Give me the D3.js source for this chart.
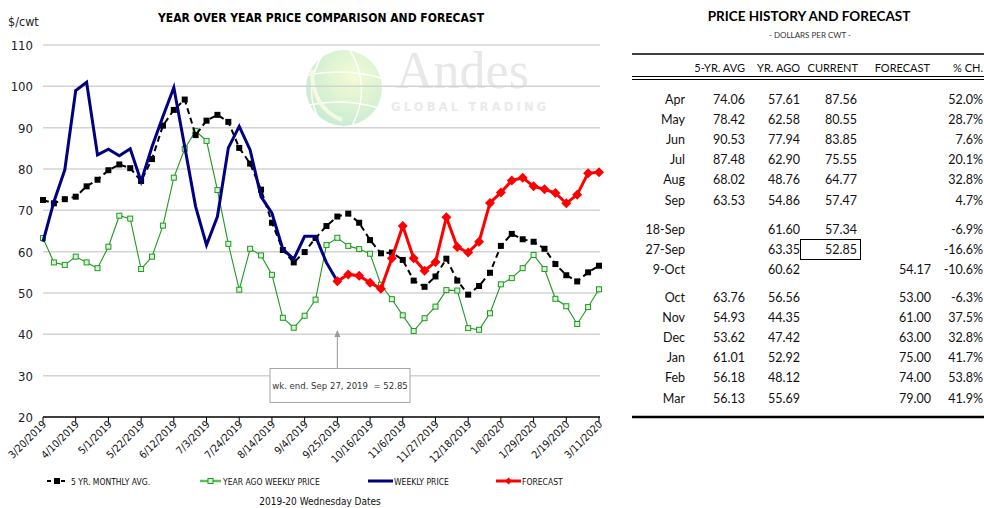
<!DOCTYPE html>
<html><head><meta charset="utf-8">
<script src="https://cdn.jsdelivr.net/npm/d3@7"></script>
<style>
html,body{margin:0;padding:0;background:#fff;}
svg{display:block;}
.ax{font-family:"DejaVu Sans Condensed","DejaVu Sans",sans-serif;font-stretch:condensed;}
.tb{font-family:Lato,"Open Sans",sans-serif;}
</style></head>
<body>
<svg id="c" width="984" height="508"></svg>
<script>
// ---------- DATA ----------
const tickLabels = ["3/20/2019","4/10/2019","5/1/2019","5/22/2019","6/12/2019","7/3/2019","7/24/2019","8/14/2019","9/4/2019","9/25/2019","10/16/2019","11/6/2019","11/27/2019","12/18/2019","1/8/2020","1/29/2020","2/19/2020","3/11/2020"];
const yTicks = [20,30,40,50,60,70,80,90,100,110];
// weekly series (week index 0 = 3/20/2019 ... 51 = 3/11/2020)
const avg5 = [72.5,71.7,72.7,73.3,75.8,77.4,79.7,81.1,80.2,77.1,82.4,90.5,94.3,96.8,88.2,91.7,93.1,91.4,85.1,81.3,75.0,67.0,60.4,57.4,59.9,63.3,66.2,68.5,69.2,67.0,62.8,59.6,59.8,58.0,53.0,51.5,54.0,58.3,53.0,49.6,51.7,54.9,61.4,64.3,63.0,62.4,60.7,57.0,54.3,52.8,55.0,56.6];
const yearAgo = [63.3,57.4,56.8,58.8,57.4,56.0,61.2,68.7,68.0,55.8,58.8,66.3,77.9,84.9,89.2,86.8,74.9,61.9,50.8,60.7,59.1,54.4,44.0,41.6,44.5,48.4,61.6,63.35,61.4,60.62,59.5,52.0,48.5,44.6,40.8,43.9,46.7,50.7,50.6,41.5,41.1,45.1,52.1,53.6,56.0,59.2,55.8,48.6,46.8,42.5,46.6,50.9];
const weekly = [62.4,72.1,79.8,99.0,101.0,83.4,84.8,83.2,84.9,77.0,85.4,92.7,99.7,85.4,70.9,61.6,68.5,85.1,90.3,84.6,73.3,69.3,60.6,58.2,63.7,63.7,57.34,52.85];
const forecastStart = 27;
const forecast = [52.85,54.5,54.17,52.5,51.0,58.4,66.2,58.4,55.4,57.5,68.3,61.1,59.8,62.4,71.8,74.3,77.2,77.9,75.8,75.1,74.2,71.7,73.8,79.0,79.2];
const legendLabels = ["5 YR. MONTHLY AVG.","YEAR AGO WEEKLY PRICE","WEEKLY PRICE","FORECAST"];

// table
const tabHeaders = ["5-YR. AVG","YR. AGO","CURRENT","FORECAST","% CH."];
const tabLabels1 = ["Apr","May","Jun","Jul","Aug","Sep"];
const tabAvg1 = ["74.06","78.42","90.53","87.48","68.02","63.53"];
const tabAgo1 = ["57.61","62.58","77.94","62.90","48.76","54.86"];
const tabCur1 = ["87.56","80.55","83.85","75.55","64.77","57.47"];
const tabPct1 = ["52.0%","28.7%","7.6%","20.1%","32.8%","4.7%"];
const tabLabels2 = ["18-Sep","27-Sep","9-Oct"];
const tabAgo2 = ["61.60","63.35","60.62"];
const tabCur2 = ["57.34","52.85",""];
const tabFc2 = ["","","54.17"];
const tabPct2 = ["-6.9%","-16.6%","-10.6%"];
const tabLabels3 = ["Oct","Nov","Dec","Jan","Feb","Mar"];
const tabAvg3 = ["63.76","54.93","53.62","61.01","56.18","56.13"];
const tabAgo3 = ["56.56","44.35","47.42","52.92","48.12","55.69"];
const tabFc3 = ["53.00","61.00","63.00","75.00","74.00","79.00"];
const tabPct3 = ["-6.3%","37.5%","32.8%","41.7%","53.8%","41.9%"];

// ---------- CHART ----------
const svg = d3.select("#c");
const x = d3.scaleLinear().domain([0,51]).range([43,599]);
const y = d3.scaleLinear().domain([20,110]).range([417,45]);

// watermark
const defs = svg.append("defs");
const rg = defs.append("radialGradient").attr("id","gl").attr("cx","0.62").attr("cy","0.35").attr("r","0.75");
rg.append("stop").attr("offset","0").attr("stop-color","#f3fbcf");
rg.append("stop").attr("offset","0.55").attr("stop-color","#d6f1cf");
rg.append("stop").attr("offset","1").attr("stop-color","#bfe8cf");
const wm = svg.append("g").attr("opacity",0.9);
wm.append("circle").attr("cx",344).attr("cy",88).attr("r",38).attr("fill","url(#gl)");
wm.append("path").attr("d","M324,52 Q300,90 322,124").attr("fill","none").attr("stroke","#fff").attr("stroke-width",1.5);
wm.append("path").attr("d","M350,50 Q372,88 352,126").attr("fill","none").attr("stroke","#fff").attr("stroke-width",1.5);
wm.append("path").attr("d","M308,75 Q344,68 381,78").attr("fill","none").attr("stroke","#fff").attr("stroke-width",1.5);
wm.append("path").attr("d","M310,105 Q344,98 378,108").attr("fill","none").attr("stroke","#fff").attr("stroke-width",1.5);
wm.append("path").attr("d","M312,70 Q312,108 342,120").attr("fill","none").attr("stroke","#f4fbe0").attr("stroke-width",4);
wm.append("text").attr("x",396).attr("y",88).attr("font-family","'Liberation Serif','DejaVu Serif',serif").attr("font-size",52).attr("fill","#e6e6e6").text("Andes");
wm.append("text").attr("x",391).attr("y",111).attr("font-family","'DejaVu Sans',sans-serif").attr("font-weight","bold").attr("font-size",11.5).attr("letter-spacing",3.2).attr("fill","#e8e8e8").text("GLOBAL TRADING");

// gridlines
svg.append("g").selectAll("line").data(yTicks.filter(d=>d>20)).join("line")
  .attr("x1",43).attr("x2",600).attr("y1",d=>y(d)).attr("y2",d=>y(d))
  .attr("stroke","#d3d3d3").attr("stroke-width",1.5);

// y labels
svg.append("g").attr("class","ax").selectAll("text").data(yTicks).join("text")
  .attr("x",33).attr("y",d=>y(d)+5).attr("text-anchor","end").attr("font-size",13).attr("fill","#222").text(d=>d);

// x axis
const xa = svg.append("g").attr("transform","translate(0,417)");
xa.append("line").attr("x1",43).attr("x2",600).attr("stroke","#000").attr("stroke-width",1.5);
const xt = xa.selectAll("g.t").data(tickLabels).join("g").attr("class","t")
  .attr("transform",(d,i)=>`translate(${x(i*3)},0)`);
xt.append("line").attr("y1",0).attr("y2",5).attr("stroke","#000");
xt.append("text").attr("class","ax").attr("transform","translate(4,8) rotate(-45)")
  .attr("text-anchor","end").attr("font-size",10.5).attr("fill","#111").text(d=>d);

// titles
svg.append("text").attr("class","ax").attr("x",321).attr("y",22).attr("text-anchor","middle")
  .attr("font-weight","bold").attr("font-size",12).attr("fill","#000").text("YEAR OVER YEAR PRICE COMPARISON AND FORECAST");
svg.append("text").attr("class","ax").attr("x",8).attr("y",26).attr("font-size",12.5).attr("fill","#222").text("$/cwt");
svg.append("text").attr("class","ax").attr("x",320).attr("y",505).attr("text-anchor","middle").attr("font-size",10).attr("fill","#111").text("2019-20 Wednesday  Dates");

const line = d3.line().x(d=>x(d[0])).y(d=>y(d[1]));
const pts = (arr,off)=>arr.map((v,i)=>[i+(off||0),v]);

// year ago (green)
const gA = pts(yearAgo);
svg.append("path").attr("d",line(gA)).attr("fill","none").attr("stroke","#1f9a1f").attr("stroke-width",1.1);
svg.append("g").selectAll("rect").data(gA).join("rect")
  .attr("x",d=>x(d[0])-2.5).attr("y",d=>y(d[1])-2.5).attr("width",5).attr("height",5)
  .attr("fill","#d9f2d9").attr("stroke","#1f9a1f").attr("stroke-width",1);

// 5 yr avg (black dashed)
const gB = pts(avg5);
svg.append("path").attr("d",line(gB)).attr("fill","none").attr("stroke","#000").attr("stroke-width",2).attr("stroke-dasharray","6,4");
svg.append("g").selectAll("rect").data(gB).join("rect")
  .attr("x",d=>x(d[0])-3).attr("y",d=>y(d[1])-3).attr("width",6).attr("height",6).attr("fill","#000");

// weekly (navy)
svg.append("path").attr("d",line(pts(weekly))).attr("fill","none").attr("stroke","#000080").attr("stroke-width",3).attr("stroke-linejoin","miter");

// forecast (red)
const gF = pts(forecast,forecastStart);
svg.append("path").attr("d",line(gF)).attr("fill","none").attr("stroke","#ff0000").attr("stroke-width",3);
const dia = "M0,-5L5,0L0,5L-5,0Z";
svg.append("g").selectAll("path").data(gF).join("path")
  .attr("d",dia).attr("transform",d=>`translate(${x(d[0])},${y(d[1])})`).attr("fill","#ff0000");

// annotation
const annX = x(forecastStart);
svg.append("line").attr("x1",annX).attr("x2",annX).attr("y1",368).attr("y2",332).attr("stroke","#999").attr("stroke-width",1);
svg.append("path").attr("d",`M${annX-3},337L${annX},330L${annX+3},337Z`).attr("fill","#999");
svg.append("rect").attr("x",270).attr("y",368.5).attr("width",140).attr("height",34).attr("fill","#fff").attr("stroke","#a6a6a6");
svg.append("text").attr("class","ax").attr("x",340).attr("y",389).attr("text-anchor","middle").attr("font-size",9.5).attr("fill","#333")
  .attr("xml:space","preserve").text("wk. end. Sep 27, 2019  = 52.85");

// legend
const lg = svg.append("g").attr("class","ax").attr("font-size",8.5).attr("fill","#111");
const ly = 481;
lg.append("line").attr("x1",47).attr("x2",67).attr("y1",ly).attr("y2",ly).attr("stroke","#000").attr("stroke-width",2).attr("stroke-dasharray","4,3");
lg.append("rect").attr("x",54).attr("y",ly-3).attr("width",6).attr("height",6).attr("fill","#000");
lg.append("line").attr("x1",200).attr("x2",221).attr("y1",ly).attr("y2",ly).attr("stroke","#5cbf5c").attr("stroke-width",2.5);
lg.append("rect").attr("x",208).attr("y",ly-2.5).attr("width",5).attr("height",5).attr("fill","#d9f2d9").attr("stroke","#1f9a1f");
lg.append("line").attr("x1",368).attr("x2",393).attr("y1",ly).attr("y2",ly).attr("stroke","#000080").attr("stroke-width",3);
lg.append("line").attr("x1",496).attr("x2",521).attr("y1",ly).attr("y2",ly).attr("stroke","#ff0000").attr("stroke-width",3);
lg.append("path").attr("d","M0,-3.5L3.5,0L0,3.5L-3.5,0Z").attr("transform",`translate(508.5,${ly})`).attr("fill","#ff0000");
const lx = [71,223,394,522];
lg.selectAll("text").data(legendLabels).join("text").attr("x",(d,i)=>lx[i]).attr("y",ly+3.5).text(d=>d);

// ---------- TABLE ----------
const T = svg.append("g").attr("class","tb").attr("fill","#111");
T.append("text").attr("x",809).attr("y",21).attr("text-anchor","middle").attr("font-weight","bold").attr("font-size",13.5).attr("fill","#000").text("PRICE HISTORY AND FORECAST");
T.append("text").attr("x",810).attr("y",38).attr("text-anchor","middle").attr("font-size",8).attr("fill","#333").text("-  DOLLARS PER CWT -");
T.append("line").attr("x1",632).attr("x2",984).attr("y1",54).attr("y2",54).attr("stroke","#000").attr("stroke-width",1.5);
T.append("line").attr("x1",632).attr("x2",984).attr("y1",76.5).attr("y2",76.5).attr("stroke","#000").attr("stroke-width",1.2);
T.append("line").attr("x1",632).attr("x2",984).attr("y1",79.5).attr("y2",79.5).attr("stroke","#000").attr("stroke-width",1.2);
T.append("line").attr("x1",632).attr("x2",984).attr("y1",417).attr("y2",417).attr("stroke","#000").attr("stroke-width",2.5);
const hdrX = [745,800,858,930,983];
T.selectAll("text.h").data(tabHeaders).join("text").attr("class","h")
  .attr("x",(d,i)=>hdrX[i]).attr("y",72).attr("text-anchor","end").attr("font-size",11).text(d=>d);
const colX = [685,745,800,857,931,983];
function rows(labels, cols, y0){
  labels.forEach((lab,r)=>{
    const yy = y0 + r*20.2;
    const cells = [lab].concat(cols.map(c=>c ? c[r] : ""));
    cells.forEach((t,ci)=>{
      if(!t) return;
      T.append("text").attr("x",colX[ci]).attr("y",yy+4.5).attr("text-anchor","end").attr("font-size",12.5).text(t);
    });
  });
}
rows(tabLabels1,[tabAvg1,tabAgo1,tabCur1,null,tabPct1],99);
rows(tabLabels2,[null,tabAgo2,tabCur2,tabFc2,tabPct2],229);
rows(tabLabels3,[tabAvg3,tabAgo3,null,tabFc3,tabPct3],297);
// box around current 27-Sep value
T.append("rect").attr("x",800.5).attr("y",239.5).attr("width",60).attr("height",20).attr("fill","none").attr("stroke","#000").attr("stroke-width",1);
</script>
</body></html>
